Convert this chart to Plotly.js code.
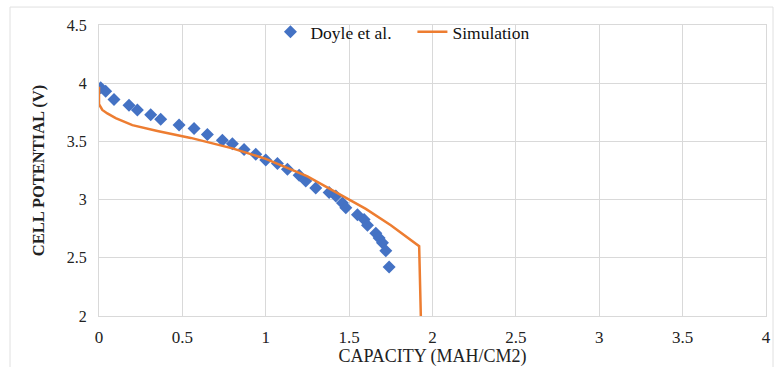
<!DOCTYPE html>
<html>
<head>
<meta charset="utf-8">
<script src="https://cdn.plot.ly/plotly-3.0.1.min.js"></script>
<style>html,body{margin:0;padding:0;background:#fff;}#chart{width:779px;height:367px;}</style>
</head>
<body>
<div id="chart"></div>
<script>
// Doyle et al. experimental data
const doyleCapacity = [0.01,0.04,0.09,0.18,0.23,0.31,0.37,0.48,0.57,0.65,0.74,0.80,0.87,0.94,1.00,1.07,1.13,1.20,1.24,1.30,1.38,1.42,1.46,1.48,1.55,1.59,1.61,1.66,1.68,1.70,1.72,1.74];
const doylePotential = [3.96,3.93,3.86,3.81,3.77,3.73,3.69,3.64,3.61,3.56,3.51,3.48,3.43,3.39,3.34,3.31,3.26,3.21,3.16,3.10,3.06,3.03,2.97,2.93,2.87,2.83,2.78,2.71,2.67,2.63,2.56,2.42];
// Simulation curve
const simCapacity = [0, 0, 0.02, 0.05, 0.10, 0.20, 0.35, 0.55, 0.80, 1.00, 1.25, 1.45, 1.60, 1.75, 1.92, 1.93];
const simPotential = [3.97, 3.82, 3.77, 3.74, 3.70, 3.64, 3.59, 3.53, 3.44, 3.35, 3.20, 3.04, 2.92, 2.78, 2.60, 2.00];
const xTicks = [0, 0.5, 1, 1.5, 2, 2.5, 3, 3.5, 4];
const yTicks = [2, 2.5, 3, 3.5, 4, 4.5];

const serif = "'Liberation Serif', 'Times New Roman', serif";
const grid = "#d9d9d9";

const traces = [
  {
    x: doyleCapacity, y: doylePotential, name: "Doyle et al.",
    type: "scatter", mode: "markers",
    marker: {symbol: "diamond", size: 10, color: "#4472C4"}
  },
  {
    x: simCapacity, y: simPotential, name: "Simulation",
    type: "scatter", mode: "lines",
    line: {color: "#ED7D31", width: 2.5}
  }
];

const layout = {
  width: 779, height: 367,
  margin: {l: 99, r: 13, t: 25, b: 50.5},
  paper_bgcolor: "#fff", plot_bgcolor: "#fff",
  font: {family: serif, size: 16, color: "#222"},
  showlegend: true,
  legend: {
    orientation: "h", x: 0.257, y: 0.976, xanchor: "left", yanchor: "middle",
    bgcolor: "rgba(0,0,0,0)", font: {family: serif, size: 17.5, color: "#111"},
    entrywidth: 97, entrywidthmode: "pixels"
  },
  xaxis: {
    range: [0, 4], tickvals: xTicks, ticktext: xTicks.map(String),
    showgrid: true, gridcolor: grid, gridwidth: 1, zeroline: false,
    showline: true, linecolor: grid, mirror: true, ticks: "",
    ticklabelstandoff: 6,
    tickfont: {family: serif, size: 17, color: "#222"},
    title: {text: "CAPACITY (MAH/CM2)", font: {family: serif, size: 18, color: "#222"}, standoff: 6}
  },
  yaxis: {
    range: [2, 4.5], tickvals: yTicks, ticktext: yTicks.map(String),
    showgrid: true, gridcolor: grid, gridwidth: 1, zeroline: false,
    showline: true, linecolor: grid, mirror: true, ticks: "",
    ticklabelstandoff: 8,
    tickfont: {family: serif, size: 16, color: "#222"},
    title: {text: "<b>CELL POTENTIAL (V)</b>", font: {family: serif, size: 16.5, color: "#222"}, standoff: 18}
  },
  shapes: [
    {type: "rect", xref: "paper", yref: "paper", x0: -0.1334, x1: 1.0105, y0: -0.3, y1: 1.0617,
     line: {color: "#e0e0e0", width: 1}, fillcolor: "rgba(0,0,0,0)", layer: "below"}
  ]
};

Plotly.newPlot("chart", traces, layout, {displayModeBar: false, staticPlot: true});
</script>
</body>
</html>
